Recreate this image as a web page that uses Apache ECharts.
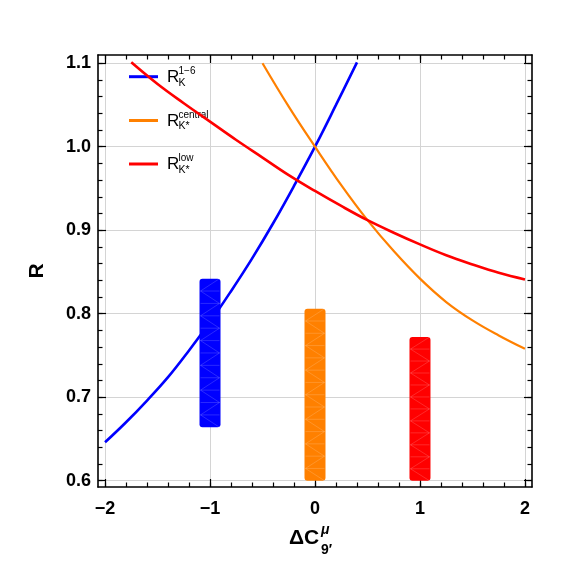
<!DOCTYPE html>
<html>
<head>
<meta charset="utf-8">
<script src="https://cdn.jsdelivr.net/npm/echarts@6/dist/echarts.min.js"></script>
<style>
html,body{margin:0;padding:0;background:#fff;}
#c{width:563px;height:567px;}
</style>
</head>
<body>
<div id="c"></div>
<script>
// ---- data ----
var blueX  = [-2.0, -1.8, -1.6, -1.4, -1.2, -1.0, -0.8, -0.6, -0.4, -0.2, 0.0, 0.2, 0.4];
var blueY  = [0.646, 0.670, 0.696, 0.724, 0.756, 0.790, 0.827, 0.866, 0.908, 0.953, 1.000, 1.050, 1.101];

var orangeX = [-0.5, -0.25, 0.0, 0.25, 0.5, 0.75, 1.0, 1.25, 1.5, 1.75, 2.0];
var orangeY = [1.100, 1.048, 1.000, 0.954, 0.912, 0.875, 0.842, 0.814, 0.792, 0.774, 0.758];

var redX = [-1.75, -1.5, -1.25, -1.0, -0.75, -0.5, -0.25, 0.0, 0.25, 0.5, 0.75, 1.0, 1.25, 1.5, 1.75, 2.0];
var redY = [1.101, 1.075, 1.052, 1.030, 1.008, 0.987, 0.966, 0.947, 0.929, 0.912, 0.897, 0.883, 0.870, 0.859, 0.849, 0.841];

var barX    = [-1, 0, 1];
var barLow  = [0.664, 0.600, 0.600];
var barHigh = [0.842, 0.806, 0.772];
var barHalfWidth = 0.1;

var xTicks = [-2, -1, 0, 1, 2];
var yTicks = [0.6, 0.7, 0.8, 0.9, 1.0, 1.1];

var colBlue = '#0000ff', colOrange = '#ff8000', colRed = '#ff0000';

// ---- helpers ----
function pairs(xs, ys){ return xs.map(function(x,i){ return [x, ys[i]]; }); }
function minorList(a, b, step){ var out=[]; var n=Math.round((b-a)/step); for(var i=0;i<=n;i++){ out.push(+(a+i*step).toFixed(4)); } return out; }
var xMinor = minorList(-2, 2, 0.2);
var yMinor = minorList(0.6, 1.1, 0.02);

var XMIN = -2.067, XMAX = 2.067, YMIN = 0.5925, YMAX = 1.1098;
var FONT = '"Liberation Sans", Arial, sans-serif';

function xAx(pos, ticks, len, main){
  return {
    type:'value', position: pos, min: XMIN, max: XMAX,
    axisLine: {show: main, onZero:false, lineStyle:{color:'#000', width:1.6}},
    axisTick: {show:true, inside:true, length: len, customValues: ticks, lineStyle:{color:'#000', width:1.2}},
    axisLabel: (main && pos==='bottom') ? {show:true, customValues: ticks, margin: 13,
      formatter: function(v){ return v<0 ? '\u2212'+Math.abs(v) : String(v); },
      color:'#000', fontWeight:'bold', fontSize:18, fontFamily: FONT} : {show:false},
    splitLine: {show: (main && pos==='bottom'), lineStyle:{color:'#d4d4d4', width:1}}
  };
}
function yAx(pos, ticks, len, main){
  var o = {
    type:'value', position: pos, min: YMIN, max: YMAX,
    axisLine: {show: main, onZero:false, lineStyle:{color:'#000', width:1.6}},
    axisTick: {show:true, inside:true, length: len, customValues: ticks, lineStyle:{color:'#000', width:1.2}},
    axisLabel: (main && pos==='left') ? {show:true, customValues: ticks, margin: 7,
      formatter: function(v){ return v.toFixed(1); },
      color:'#000', fontWeight:'bold', fontSize:18, fontFamily: FONT} : {show:false},
    splitLine: {show: (main && pos==='left'), lineStyle:{color:'#d4d4d4', width:1}}
  };
  if (main && pos==='left') {
    o.name = 'R'; o.nameLocation = 'middle'; o.nameGap = 50; o.nameRotate = 90;
    o.nameTextStyle = {color:'#000', fontWeight:'bold', fontSize:21, fontFamily: FONT};
  }
  return o;
}

var chart = echarts.init(document.getElementById('c'), null, {renderer:'canvas'});

function legendItem(y, color, sup, sub){
  return [
    {type:'line', shape:{x1:129, y1:y, x2:158, y2:y}, style:{stroke:color, lineWidth:3}},
    {type:'text', x:167, y:y+0.5, style:{text:'R', font:'17px '+FONT, fill:'#000', verticalAlign:'middle'}},
    {type:'text', x:178.5, y:y-5.5, style:{text:sup, font:'10px '+FONT, fill:'#000', verticalAlign:'middle'}},
    {type:'text', x:178.5, y:y+6, style:{text:sub, font:'10.5px '+FONT, fill:'#000', verticalAlign:'middle'}}
  ];
}

var graphics = []
  .concat(legendItem(76.7, colBlue, '1\u22126', 'K'))
  .concat(legendItem(120.5, colOrange, 'central', 'K*'))
  .concat(legendItem(164, colRed, 'low', 'K*'))
  .concat([
    {type:'text', x:289, y:538, style:{text:'\u0394C', font:'bold 21px '+FONT, fill:'#000', verticalAlign:'middle'}},
    {type:'text', x:321, y:530, style:{text:'\u03bc', font:'italic bold 14px '+FONT, fill:'#000', verticalAlign:'middle'}},
    {type:'text', x:321, y:550.5, style:{text:'9\u2032', font:'bold 14px '+FONT, fill:'#000', verticalAlign:'middle'}}
  ]);

var barData = barX.map(function(x,i){ return [x, barLow[i], barHigh[i], i]; });
var barColors = [colBlue, colOrange, colRed];

chart.setOption({
  animation:false,
  backgroundColor:'#fff',
  grid:{left:98, right:31, top:55, bottom:80, containLabel:false},
  xAxis:[ xAx('bottom', xTicks, 8, true), xAx('bottom', xMinor, 4.5, false),
          xAx('top', xTicks, 8, true), xAx('top', xMinor, 4.5, false) ],
  yAxis:[ yAx('left', yTicks, 8, true), yAx('left', yMinor, 4.5, false),
          yAx('right', yTicks, 8, true), yAx('right', yMinor, 4.5, false) ],
  series:[
    {type:'line', name:'blue', data: pairs(blueX, blueY), smooth:0.4, showSymbol:false, clip:false,
     lineStyle:{color:colBlue, width:2.6}, z:3},
    {type:'line', name:'orange', data: pairs(orangeX, orangeY), smooth:0.4, showSymbol:false, clip:false,
     lineStyle:{color:colOrange, width:2.2}, z:3},
    {type:'line', name:'red', data: pairs(redX, redY), smooth:0.4, showSymbol:false, clip:false,
     lineStyle:{color:colRed, width:2.6}, z:3},
    {type:'custom', name:'bars', data: barData, z:4,
     renderItem: function(params, api){
       var x = api.value(0), lo = api.value(1), hi = api.value(2), idx = api.value(3);
       var p1 = api.coord([x - barHalfWidth, hi]);
       var p2 = api.coord([x + barHalfWidth, lo]);
       var x0 = p1[0], y0 = p1[1], w = p2[0]-p1[0], h = p2[1]-p1[1];
       var children = [{type:'rect', shape:{x:x0, y:y0, width:w, height:h, r:3}, style:{fill: barColors[idx]}}];
       var n = Math.max(1, Math.round(h/12)), step = h/n;
       var meshStyle = {stroke:'rgba(255,255,255,0.16)', lineWidth:1};
       for (var k=0; k<n; k++) {
         var ya = y0 + k*step, yb = ya + step;
         if (k>0) children.push({type:'line', shape:{x1:x0+1, y1:ya, x2:x0+w-1, y2:ya}, style:meshStyle});
         if (k%2===0) children.push({type:'line', shape:{x1:x0+1, y1:yb, x2:x0+w-1, y2:ya}, style:meshStyle});
         else children.push({type:'line', shape:{x1:x0+1, y1:ya, x2:x0+w-1, y2:yb}, style:meshStyle});
       }
       return {type:'group', children: children};
     },
     encode:{x:0, y:[1,2]}}
  ],
  graphic: graphics
});
</script>
</body>
</html>
